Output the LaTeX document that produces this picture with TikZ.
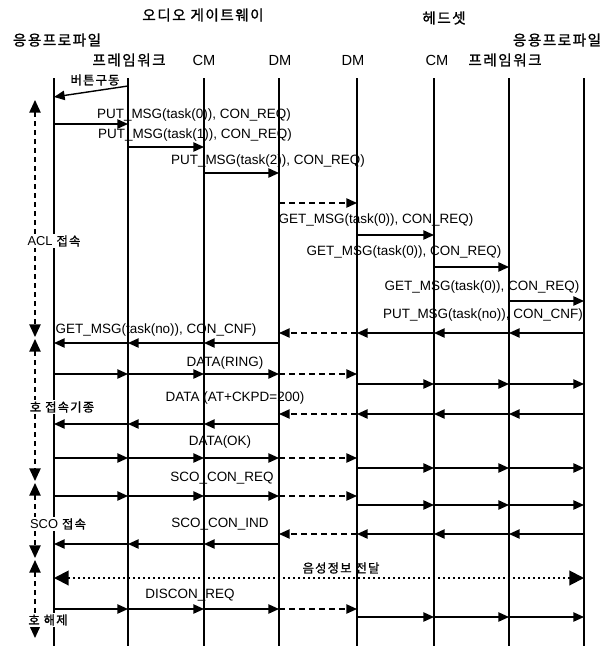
\documentclass[tikz,border=0pt]{standalone}
\usepackage{fontspec}
\setmainfont{Liberation Sans}
\newfontfamily\kr[LetterSpace=10,FakeBold=1.2]{Noto Sans CJK KR}
\usetikzlibrary{arrows.meta}

\begin{document}
\begin{tikzpicture}[x=0.3mm,y=-0.3mm,>={Triangle[length=3.2mm,width=2.8mm]},
    life/.style={line width=1.3pt},
    msg/.style={->,line width=1.2pt},
    relay/.style={->,line width=1.2pt,dash pattern=on 1.8mm off 1.2mm},
    voice/.style={<->,line width=1.7pt,dash pattern=on 0.5mm off 1mm,>={Triangle[length=4.4mm,width=4.4mm]}},
    phase/.style={<->,line width=1.2pt,dash pattern=on 1.5mm off 1.2mm,>={Triangle[length=3.8mm,width=3.4mm]}},
    lbl/.style={font=\fontsize{11.5}{13}\selectfont,inner sep=0pt},
    head/.style={font=\kr\fontsize{12.5}{14}\selectfont,inner sep=0pt},
    unit/.style={font=\fontsize{12.5}{14}\selectfont,inner sep=0pt},
    kor/.style={font=\kr\fontsize{10.5}{12}\selectfont,inner sep=1pt},
    tag/.style={kor,fill=white}]
    \useasboundingbox (0,0) rectangle (612,646);

    % headers
    \node[head] (agw) at (203,15) {오디오 게이트웨이};
    \node[head] (hs) at (444,18) {헤드셋};
    \node[head] (appA) at (57,40) {응용프로파일};
    \node[head] (fwA) at (129,60) {프레임워크};
    \node[unit] (cmA) at (204,60) {CM};
    \node[unit] (dmA) at (280,60) {DM};
    \node[unit] (dmB) at (353,60) {DM};
    \node[unit] (cmB) at (437,60) {CM};
    \node[head] (fwB) at (505,60) {프레임워크};
    \node[head] (appB) at (557,40) {응용프로파일};

    % lifelines
    \foreach \n/\x in {l1/54,l2/128,l3/204,l4/279,l5/357,l6/434,l7/509,l8/584} {
      \coordinate (\n) at (\x,78);
      \draw[life] (\n) -- (\n |- 0,646);
    }

    % ACL connection
    \draw[msg] (l2 |- 0,86) -- (l1 |- 0,97);
    \node[kor] (btn) at (95,80) {버튼구동};
    \node[lbl] (put0) at (194,115) {PUT\_MSG(task(0)), CON\_REQ)};
    \draw[msg] (l1 |- 0,124) -- (l2 |- 0,124);
    \node[lbl] (put1) at (195,135) {PUT\_MSG(task(1)), CON\_REQ)};
    \draw[msg] (l2 |- 0,147) -- (l3 |- 0,147);
    \node[lbl] (put2) at (268,161) {PUT\_MSG(task(2)), CON\_REQ)};
    \draw[msg] (l3 |- 0,173) -- (l4 |- 0,173);
    \draw[relay] (l4 |- 0,203) -- (l5 |- 0,203);
    \node[lbl] (get1) at (376,220) {GET\_MSG(task(0)), CON\_REQ)};
    \draw[msg] (l5 |- 0,235) -- (l6 |- 0,235);
    \node[lbl] (get2) at (404,252) {GET\_MSG(task(0)), CON\_REQ)};
    \draw[msg] (l6 |- 0,267) -- (l7 |- 0,267);
    \node[lbl] (get3) at (482,287) {GET\_MSG(task(0)), CON\_REQ)};
    \draw[msg] (l7 |- 0,301) -- (l8 |- 0,301);
    \node[lbl] (putno) at (483,315) {PUT\_MSG(task(no)), CON\_CNF)};
    \node[lbl] (getno) at (156,330) {GET\_MSG(task(no)), CON\_CNF)};

    % other labels
    \node[lbl] (ring) at (225,363) {DATA(RING)};
    \node[lbl] (ckpd) at (235,398) {DATA (AT+CKPD=200)};
    \node[lbl] (ok) at (220,442) {DATA(OK)};
    \node[lbl] (scoreq) at (222,478) {SCO\_CON\_REQ};
    \node[lbl] (scoind) at (220,524) {SCO\_CON\_IND};
    \node[kor] (voiceL) at (341,568) {음성정보 전달};
    \node[lbl] (discon) at (190,595) {DISCON\_REQ};

    % gateway -> headset
    \foreach \ya/\yb in {374/384,458/468,496/505,609/617} {
      \foreach \a/\b in {l1/l2,l2/l3,l3/l4}
        \draw[msg] (\a |- 0,\ya) -- (\b |- 0,\ya);
      \draw[relay] (l4 |- 0,\ya) -- (l5 |- 0,\ya);
      \foreach \a/\b in {l5/l6,l6/l7,l7/l8}
        \draw[msg] (\a |- 0,\yb) -- (\b |- 0,\yb);
    }

    % headset -> gateway
    \foreach \ya/\yb in {333/343,414/424,534/544} {
      \foreach \a/\b in {l8/l7,l7/l6,l6/l5}
        \draw[msg] (\a |- 0,\ya) -- (\b |- 0,\ya);
      \draw[relay] (l5 |- 0,\ya) -- (l4 |- 0,\ya);
      \foreach \a/\b in {l4/l3,l3/l2,l2/l1}
        \draw[msg] (\a |- 0,\yb) -- (\b |- 0,\yb);
    }

    % voice
    \draw[voice] (l1 |- 0,578) -- (l8 |- 0,578);

    % phases
    \foreach \s/\e in {100/337,339/481,483/558,560/638}
      \draw[phase] (35,\s) -- (35,\e);
    \node[tag] (acl) at (54,241) {{\rmfamily\fontsize{11}{12}\selectfont ACL} 접속};
    \node[tag] (call) at (62,407) {호 접속기종};
    \node[tag] (sco) at (58,524) {{\rmfamily\fontsize{11}{12}\selectfont SCO} 접속};
    \node[tag] (rel) at (48,620) {호 해제};
  \end{tikzpicture}
\end{document}
